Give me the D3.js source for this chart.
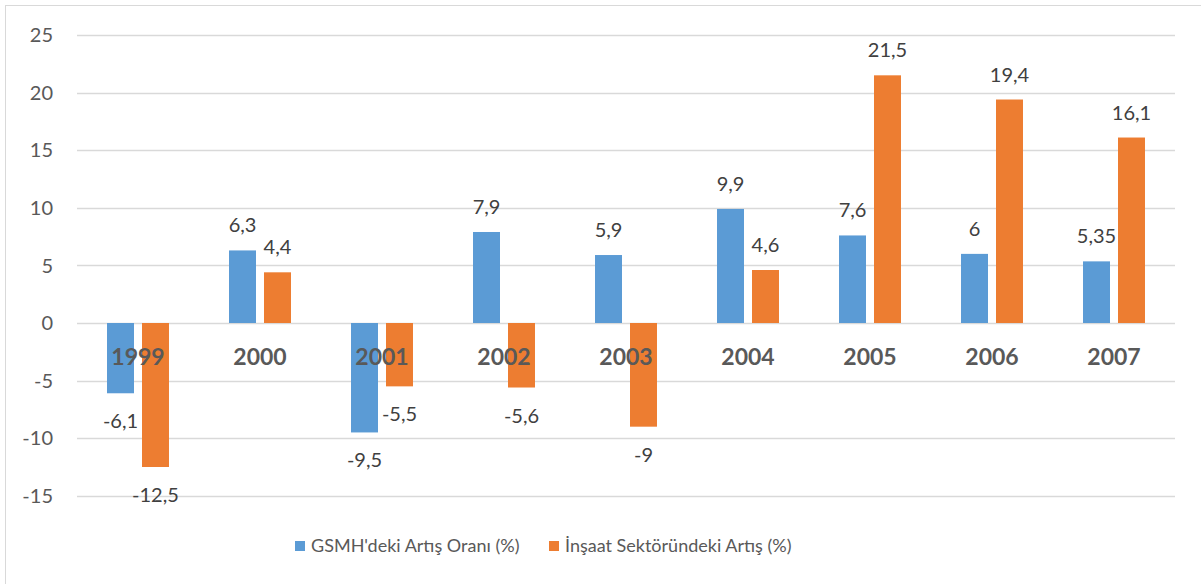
<!DOCTYPE html>
<html>
<head>
<meta charset="utf-8">
<script src="https://cdn.jsdelivr.net/npm/d3@7"></script>
<style>
  body { margin: 0; background: #fff; }
  text { font-family: Lato, "Open Sans", sans-serif; }
</style>
</head>
<body>
<svg width="1201" height="584"></svg>
<script>
var years = ["1999", "2000", "2001", "2002", "2003", "2004", "2005", "2006", "2007"];
var gsmh = [-6.1, 6.3, -9.5, 7.9, 5.9, 9.9, 7.6, 6, 5.35];
var insaat = [-12.5, 4.4, -5.5, -5.6, -9, 4.6, 21.5, 19.4, 16.1];
var seriesNames = ["GSMH'deki Artış Oranı (%)", "İnşaat Sektöründeki Artış (%)"];
var colors = ["#5B9BD5", "#ED7D31"];
var yTicks = [-15, -10, -5, 0, 5, 10, 15, 20, 25];

var svg = d3.select("svg");

// outer frame
svg.append("rect")
    .attr("x", 5.5).attr("y", 5.5)
    .attr("width", 1210).attr("height", 600)
    .attr("fill", "none")
    .attr("stroke", "#d9d9d9");

var x0 = d3.scaleBand().domain(years).range([77, 1175]);
var x1 = d3.scaleBand().domain([0, 1])
    .range([x0.bandwidth() * 0.246, x0.bandwidth() * 0.754])
    .paddingInner(0.2286);
var y = d3.scaleLinear().domain([-15, 25]).range([495.8, 35]);

// gridlines
svg.append("g").selectAll("line")
  .data(yTicks)
  .enter().append("line")
    .attr("x1", 77).attr("x2", 1175)
    .attr("y1", d => Math.round(y(d)) + 0.5)
    .attr("y2", d => Math.round(y(d)) + 0.5)
    .attr("stroke", "#d9d9d9")
    .attr("stroke-width", 1.5);

// y tick labels
svg.append("g").selectAll("text")
  .data(yTicks)
  .enter().append("text")
    .attr("x", 53)
    .attr("y", d => y(d))
    .attr("dy", "0.36em")
    .attr("text-anchor", "end")
    .attr("font-size", 20)
    .attr("fill", "#595959")
    .text(d => d);

var rows = years.map((yr, i) => ({ year: yr, vals: [gsmh[i], insaat[i]] }));

var group = svg.append("g").selectAll("g")
  .data(rows)
  .enter().append("g")
    .attr("transform", d => "translate(" + x0(d.year) + ",0)");

group.selectAll("rect")
  .data(d => d.vals.map((v, k) => ({ k: k, v: v })))
  .enter().append("rect")
    .attr("x", d => x1(d.k))
    .attr("width", x1.bandwidth())
    .attr("y", d => y(Math.max(0, d.v)))
    .attr("height", d => Math.abs(y(d.v) - y(0)))
    .attr("fill", d => colors[d.k]);

// year labels
group.append("text")
    .attr("x", x0.bandwidth() / 2)
    .attr("y", 365)
    .attr("text-anchor", "middle")
    .attr("font-size", 23)
    .attr("font-weight", "bold")
    .attr("fill", "#595959")
    .text(d => d.year);

// value labels
group.selectAll("text.val")
  .data(d => d.vals.map((v, k) => ({ k: k, v: v })))
  .enter().append("text")
    .attr("class", "val")
    .attr("x", d => x1(d.k) + x1.bandwidth() / 2)
    .attr("y", d => d.v >= 0 ? y(d.v) - 18 : y(d.v) + 35)
    .attr("text-anchor", "middle")
    .attr("font-size", 20)
    .attr("fill", "#404040")
    .text(d => String(d.v).replace(".", ","));

// legend
var legendX = [295, 549];
var legend = svg.append("g").selectAll("g")
  .data(seriesNames)
  .enter().append("g")
    .attr("transform", (d, i) => "translate(" + legendX[i] + ",541)");
legend.append("rect")
    .attr("width", 10).attr("height", 10)
    .attr("fill", (d, i) => colors[i]);
legend.append("text")
    .attr("x", 16).attr("y", 5)
    .attr("dy", "0.36em")
    .attr("font-size", 18)
    .attr("fill", "#595959")
    .text(d => d);
</script>
</body>
</html>
